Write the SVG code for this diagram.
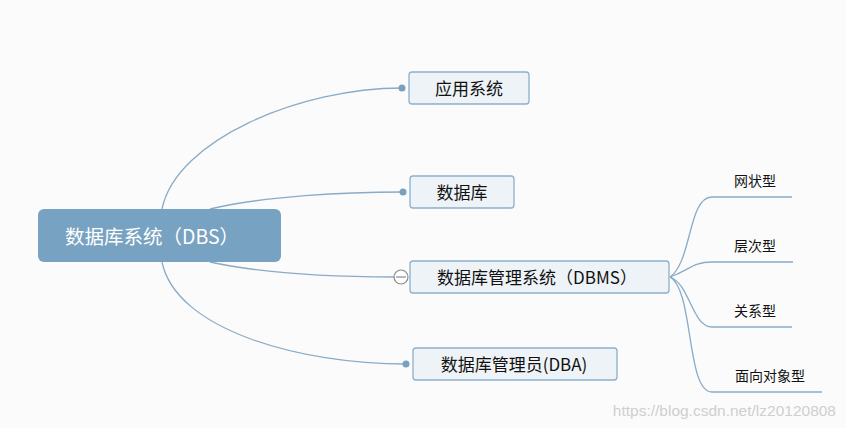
<svg xmlns="http://www.w3.org/2000/svg" width="846" height="428" viewBox="0 0 846 428">
<style>
.bg{fill:#fbfbfc}
.node rect{fill:#eef3f7;stroke:#8db0cc;stroke-width:1.3}
.t{font-family:"Noto Sans CJK SC","Noto Sans",sans-serif;fill:#111111;text-anchor:middle}
.m{font-size:17px}
.s{font-size:14px}
.conn path{fill:none;stroke:#8aabc6;stroke-width:1.3}
.dot{fill:#7aa0c0}
</style>
<rect class="bg" x="0" y="0" width="846" height="428"/>
<g class="conn" id="connectors">
<path d="M162,209 C176,140 300,88 402,88"/>
<path d="M210,209 C265,196 345,192 403,192"/>
<path d="M210,262 C265,274 340,277 394,277"/>
<path d="M162,262 C176,330 300,364 406,364"/>
<path d="M670,277 C692,262 688,197 712,197 L792,197"/>
<path d="M670,277 C690,270 692,262 712,262 L793,262"/>
<path d="M670,277 C690,284 692,327 712,327 L792,327"/>
<path d="M670,277 C694,290 686,392 712,392 L822,392"/>
</g>
<g id="root">
<rect x="38" y="209" width="243" height="53" rx="6" fill="#78a2c2"/>
<text class="t" x="152" y="244" style="font-size:19.5px;fill:#ffffff">数据库系统（DBS）</text>
</g>
<g id="n-app" class="node">
<circle class="dot" cx="402" cy="88" r="3.5"/>
<rect x="409" y="72" width="120" height="32" rx="3"/>
<text class="t m" x="469" y="95">应用系统</text>
</g>
<g id="n-db" class="node">
<circle class="dot" cx="403" cy="192" r="3.5"/>
<rect x="410" y="176" width="104" height="32" rx="3"/>
<text class="t m" x="462" y="199">数据库</text>
</g>
<g id="n-dbms" class="node">
<circle cx="401" cy="277" r="7" fill="#ffffff" stroke="#8a8a8a" stroke-width="1.2"/>
<line x1="396" y1="277" x2="406" y2="277" stroke="#8a8a8a" stroke-width="1.2"/>
<rect x="410" y="261" width="259" height="32" rx="3"/>
<text class="t m" x="537" y="284">数据库管理系统（DBMS）</text>
</g>
<g id="n-dba" class="node">
<circle class="dot" cx="406" cy="364" r="3.5"/>
<rect x="413" y="348" width="204" height="32" rx="3"/>
<text class="t m" x="514" y="371">数据库管理员(DBA)</text>
</g>
<g id="c-net"><text class="t s" x="755" y="186">网状型</text></g>
<g id="c-hier"><text class="t s" x="755" y="251">层次型</text></g>
<g id="c-rel"><text class="t s" x="755" y="316">关系型</text></g>
<g id="c-oo"><text class="t s" x="770" y="381">面向对象型</text></g>
<text x="836" y="416" text-anchor="end" style="font-family:'Liberation Sans',Arial,sans-serif;font-size:15.5px;fill:#cfcfcf">https://blog.csdn.net/lz20120808</text>
</svg>
